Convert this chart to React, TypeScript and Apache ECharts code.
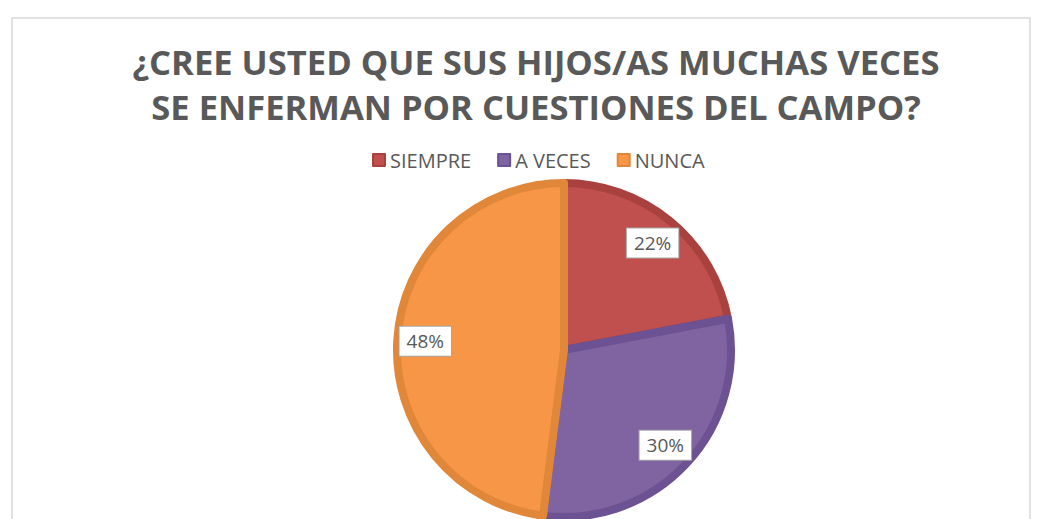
import React, { useEffect, useRef } from "react";
import * as echarts from "echarts";

const categories = ["SIEMPRE", "A VECES", "NUNCA"];
const values = [22, 30, 48];
const fillColors = ["#c0504d", "#8064a2", "#f79646"];
const edgeColors = ["#a9423f", "#6c5292", "#e0873a"];
const titleLines = ["¿CREE USTED QUE SUS HIJOS/AS MUCHAS VECES", "SE ENFERMAN POR CUESTIONES DEL CAMPO?"];

export default function App() {
  const ref = useRef<HTMLDivElement>(null);
  useEffect(() => {
    if (!ref.current) return;
    const chart = echarts.init(ref.current, null, { renderer: "svg" });
    const data = categories.map((name, i) => ({
      name,
      value: values[i],
      itemStyle: { color: fillColors[i], borderColor: edgeColors[i] },
    }));
    chart.setOption({
      animation: false,
      backgroundColor: "#ffffff",
      color: fillColors,
      graphic: [
        {
          type: "rect",
          shape: { x: 12, y: 18, width: 1018, height: 520 },
          style: { fill: "none", stroke: "#d9d9d9", lineWidth: 1.5 },
          z: -10,
        },
      ],
      title: {
        text: titleLines.join("\n"),
        left: 531,
        textAlign: "center",
        top: 34,
        textStyle: {
          fontFamily: "'Open Sans', sans-serif",
          fontWeight: "bold",
          fontSize: 34.6,
          lineHeight: 45,
          color: "#595959",
        },
      },
      legend: {
        data: categories,
        top: 145,
        left: 367,
        icon: "rect",
        itemWidth: 12,
        itemHeight: 12,
        itemGap: 26,
        textStyle: { fontFamily: "'Open Sans', sans-serif", fontSize: 20, color: "#595959" },
      },
      series: [
        {
          type: "pie",
          center: [564, 350],
          radius: 167,
          startAngle: 90,
          clockwise: true,
          label: { show: false },
          labelLine: { show: false },
          itemStyle: { borderWidth: 8 },
          emphasis: { disabled: true },
          data,
        },
        {
          type: "pie",
          center: [564, 350],
          radius: [102, 170],
          startAngle: 90,
          clockwise: true,
          silent: true,
          itemStyle: { color: "rgba(0,0,0,0)" },
          labelLine: { show: false },
          label: {
            show: true,
            position: "inside",
            formatter: "{d}%",
            backgroundColor: "#ffffff",
            borderColor: "#a6a6a6",
            borderWidth: 1,
            padding: [6, 7, 4, 7],
            fontFamily: "'Open Sans', sans-serif",
            fontSize: 19,
            color: "#595959",
          },
          emphasis: { disabled: true },
          data: categories.map((name, i) => ({ name, value: values[i] })),
        },
      ],
    });
    return () => chart.dispose();
  }, []);
  return <div ref={ref} style={{ position: "absolute", left: 0, top: 0, width: 1041, height: 519 }} />;
}
